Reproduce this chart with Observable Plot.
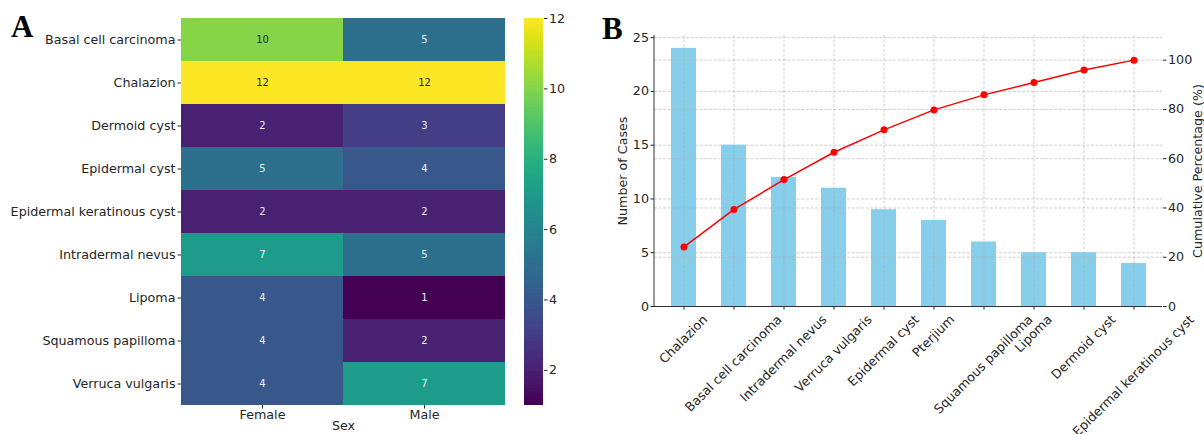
<!DOCTYPE html>
<html>
<head>
<meta charset="utf-8">
<script src="https://cdn.jsdelivr.net/npm/d3@7"></script>
<script src="https://cdn.jsdelivr.net/npm/@observablehq/plot@0.6"></script>
<style>
  html, body { margin: 0; padding: 0; background: #fff; }
  #wrap { position: relative; width: 1204px; height: 434px; overflow: hidden; background: #fff; }
  #wrap svg { position: absolute; overflow: visible; }
  .letter { position: absolute; font-family: "Liberation Serif", "DejaVu Serif", serif; font-weight: bold; font-size: 31px; color: #000; line-height: 1; }
</style>
</head>
<body>
<div id="wrap">
  <div class="letter" style="left:11px; top:11px;">A</div>
  <div class="letter" style="left:602px; top:13px;">B</div>
</div>
<script>
// ---------- Panel A data ----------
const diseasesA = ["Basal cell carcinoma", "Chalazion", "Dermoid cyst", "Epidermal cyst",
  "Epidermal keratinous cyst", "Intradermal nevus", "Lipoma", "Squamous papilloma", "Verruca vulgaris"];
const sexes = ["Female", "Male"];
const femaleCounts = [10, 12, 2, 5, 2, 7, 4, 4, 4];
const maleCounts = [5, 12, 3, 4, 2, 5, 1, 2, 7];
const colorbarTicks = [2, 4, 6, 8, 10, 12];
const colorDomain = [1, 12];

// ---------- Panel B data ----------
const paretoCategories = ["Chalazion", "Basal cell carcinoma", "Intradermal nevus", "Verruca vulgaris",
  "Epidermal cyst", "Pterjium", "Squamous papilloma", "Lipoma", "Dermoid cyst", "Epidermal keratinous cyst"];
const paretoCounts = [24, 15, 12, 11, 9, 8, 6, 5, 5, 4];
const cumulativePct = [24.2, 39.4, 51.5, 62.6, 71.7, 79.8, 85.9, 90.9, 96.0, 100];
const countTicks = [0, 5, 10, 15, 20, 25];
const pctTicks = [0, 20, 40, 60, 80, 100];

const FONT = "DejaVu Sans";
const FS = 12.7;
const TXT = "#262626";
const wrap = document.getElementById("wrap");

// ---------- Panel A: heatmap ----------
const cells = [];
diseasesA.forEach((d, i) => {
  cells.push({disease: d, sex: sexes[0], value: femaleCounts[i]});
  cells.push({disease: d, sex: sexes[1], value: maleCounts[i]});
});

const heat = Plot.plot({
  width: 520, height: 434,
  marginLeft: 181, marginRight: 15, marginTop: 18, marginBottom: 29,
  style: {fontFamily: FONT, fontSize: FS + "px", color: TXT, background: "transparent"},
  x: {domain: sexes, padding: 0, label: null},
  y: {domain: diseasesA, padding: 0, label: null},
  color: {type: "linear", scheme: "viridis", domain: colorDomain},
  marks: [
    Plot.cell(cells, {x: "sex", y: "disease", fill: "value", inset: 0}),
    Plot.text(cells, {filter: d => d.value >= 9, x: "sex", y: "disease", text: "value", fill: "#262626", fontSize: 10}),
    Plot.text(cells, {filter: d => d.value < 9, x: "sex", y: "disease", text: "value", fill: "#eeeeee", fontSize: 10}),
    Plot.axisX({tickSize: 3.5, tickPadding: 1, label: null}),
    Plot.axisY({tickSize: 3.5, tickPadding: 2.5, label: null}),
    Plot.text(["Sex"], {frameAnchor: "bottom", text: d => d, dy: 24, fill: TXT})
  ]
});
heat.style.left = "0px"; heat.style.top = "0px";
wrap.appendChild(heat);

// ---------- Panel A: colorbar ----------
const gradSteps = d3.range(colorDomain[0], colorDomain[1], 0.05).map(v => ({v}));
const cbar = Plot.plot({
  width: 100, height: 434,
  marginLeft: 24, marginRight: 57, marginTop: 18, marginBottom: 29,
  style: {fontFamily: FONT, fontSize: FS + "px", color: TXT, background: "transparent"},
  x: {domain: [0, 1], axis: null},
  y: {domain: colorDomain, axis: null},
  color: {type: "linear", scheme: "viridis", domain: colorDomain},
  marks: [
    Plot.rect(gradSteps, {x1: 0, x2: 1, y1: "v", y2: d => Math.min(colorDomain[1], d.v + 0.07), fill: "v", inset: 0}),
    Plot.axisY(colorbarTicks, {anchor: "right", tickSize: 3.5, tickPadding: 2, label: null})
  ]
});
cbar.style.left = "500px"; cbar.style.top = "0px";
wrap.appendChild(cbar);

// ---------- Panel B: pareto ----------
const pareto = paretoCategories.map((name, i) => ({name, count: paretoCounts[i], pct: cumulativePct[i]}));
const yMax = 25.2, pMax = 110;
const y2 = d3.scaleLinear([0, pMax], [0, yMax]);
const gridStyle = {stroke: "#b0b0b0", strokeOpacity: 0.75, strokeWidth: 0.8, strokeDasharray: "3,1.6"};

const bar = Plot.plot({
  width: 614, height: 434,
  marginLeft: 64, marginRight: 42, marginTop: 35, marginBottom: 128,
  style: {fontFamily: FONT, fontSize: FS + "px", color: TXT, background: "transparent"},
  x: {domain: paretoCategories, paddingInner: 0.5, paddingOuter: 0.25, axis: null},
  y: {domain: [0, yMax], axis: null},
  marks: [
    Plot.gridY(countTicks, gridStyle),
    Plot.barY(pareto, {x: "name", y: "count", fill: "#87CEEB"}),
    Plot.gridX(paretoCategories, gridStyle),
    Plot.gridY(pctTicks, {y: y2, ...gridStyle}),
    Plot.axisY(countTicks, {anchor: "left", tickSize: 3.5, tickPadding: 2, label: null}),
    Plot.axisY(pctTicks, {anchor: "right", y: y2, tickFormat: d => String(d), tickSize: 3.5, tickPadding: 2, label: null}),
    Plot.axisX({tickSize: 3.5, tickFormat: () => "", label: null}),
    Plot.text(pareto, {x: "name", text: "name", frameAnchor: "bottom", rotate: -45, textAnchor: "end", fill: TXT, fontSize: FS}),
    Plot.ruleY([0], {stroke: "#333", strokeWidth: 1}),
    Plot.lineY(pareto, {x: "name", y: d => y2(d.pct), stroke: "red", strokeWidth: 1.5}),
    Plot.dot(pareto, {x: "name", y: d => y2(d.pct), fill: "red", r: 3.5}),
    Plot.text(["Number of Cases"], {text: d => d, frameAnchor: "left", textAnchor: "middle", rotate: -90, dx: -32, fill: TXT}),
    Plot.text(["Cumulative Percentage (%)"], {text: d => d, frameAnchor: "right", textAnchor: "middle", rotate: -90, dx: 35, fill: TXT})
  ]
});
bar.style.left = "590px"; bar.style.top = "0px";
wrap.appendChild(bar);

// left spine
d3.select(bar).append("line")
  .attr("x1", 64).attr("x2", 64).attr("y1", 35).attr("y2", 306)
  .attr("stroke", "#333").attr("stroke-width", 1);

// rotated category labels: bounding box centred under the tick (matplotlib rotation=45, ha=center)
const xb = bar.scale("x");
const measure = document.createElement("canvas").getContext("2d");
measure.font = `${FS}px "${FONT}"`;
const labelTop = 306 + 7;
const c = Math.SQRT1_2 / 2;
d3.select(bar).selectAll("text").each(function () {
  const name = this.textContent;
  if (!paretoCategories.includes(name)) return;
  const tr = this.getAttribute("transform") || "";
  if (!/rotate/.test(tr)) return;
  const tx = xb.apply(name) + xb.bandwidth / 2;
  const w = measure.measureText(name).width;
  this.setAttribute("transform", `translate(${tx + c * w},${labelTop + c * FS}) rotate(-45)`);
  this.setAttribute("text-anchor", "end");
  this.setAttribute("dy", "0.32em");
  this.removeAttribute("x");
  this.removeAttribute("y");
  this.parentNode.removeAttribute("transform");
});
</script>
</body>
</html>
